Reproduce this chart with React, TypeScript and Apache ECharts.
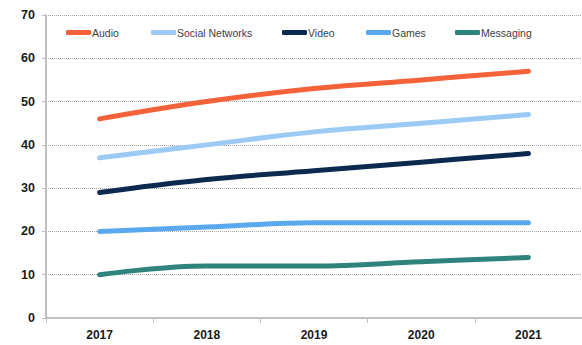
import React, { useEffect, useRef } from "react";
import * as echarts from "echarts";

const years = ["2017", "2018", "2019", "2020", "2021"];
const audio = [46, 50, 53, 55, 57];
const socialNetworks = [37, 40, 43, 45, 47];
const video = [29, 32, 34, 36, 38];
const games = [20, 21, 22, 22, 22];
const messaging = [10, 12, 12, 13, 14];

const seriesNames = ["Audio", "Social Networks", "Video", "Games", "Messaging"];
const seriesData = [audio, socialNetworks, video, games, messaging];
const colors = ["#F4623A", "#9DCAF5", "#0C2A4F", "#5AA9EE", "#2E837D"];
const legendLefts = [66, 151, 282, 366, 455];

export default function App() {
  const ref = useRef<HTMLDivElement>(null);
  useEffect(() => {
    if (!ref.current) return;
    const chart = echarts.init(ref.current, null, { renderer: "svg" });
    const font = "'Liberation Sans', Arial, sans-serif";
    chart.setOption({
      animation: false,
      backgroundColor: "#ffffff",
      grid: { left: 46, right: -5, top: 15, bottom: 27, containLabel: false },
      legend: seriesNames.map((n, i) => ({
        data: [n],
        left: legendLefts[i],
        top: 27,
        icon: "roundRect",
        itemWidth: 25,
        itemHeight: 5,
        itemGap: 0,
        padding: 0,
        textStyle: { fontFamily: font, fontSize: 10.5, color: "#404040", padding: [0, 0, 0, -4] },
      })),
      xAxis: {
        type: "category",
        data: years,
        boundaryGap: true,
        axisLine: { show: true, lineStyle: { color: "#BFBFBF", width: 2 } },
        axisTick: { show: true, length: 5, lineStyle: { color: "#BFBFBF", width: 1 } },
        axisLabel: { fontFamily: font, fontSize: 12, fontWeight: "bold", color: "#1a1a1a", margin: 11 },
        splitLine: { show: false },
      },
      yAxis: {
        type: "value",
        min: 0,
        max: 70,
        interval: 10,
        axisLine: { show: true, lineStyle: { color: "#BFBFBF", width: 2 } },
        axisTick: { show: true, length: 4, lineStyle: { color: "#BFBFBF" } },
        axisLabel: { fontFamily: font, fontSize: 12.5, fontWeight: "bold", color: "#1a1a1a", margin: 11 },
        splitLine: { show: true, lineStyle: { color: "#A6A6A6", type: [1, 1], width: 1 } },
      },
      series: seriesNames.map((n, i) => ({
        name: n,
        type: "line",
        data: seriesData[i],
        smooth: 0.4,
        showSymbol: false,
        symbol: "none",
        color: colors[i],
        lineStyle: { width: 5, color: colors[i], cap: "round" },
      })),
    });
    return () => chart.dispose();
  }, []);
  return <div ref={ref} style={{ width: 582, height: 345, position: "absolute", left: 0, top: 0 }} />;
}
